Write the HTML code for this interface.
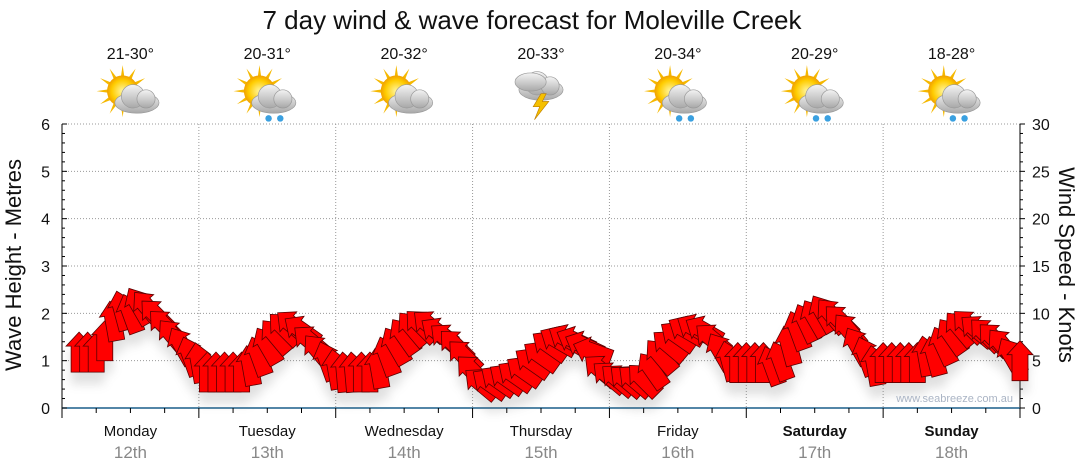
<!DOCTYPE html>
<html><head><meta charset="utf-8"><style>
body{margin:0;background:#fff;font-family:"Liberation Sans","DejaVu Sans",sans-serif}
svg{display:block}
</style></head><body>
<svg id="c" width="1080" height="475">
<defs>
<filter id="sh" x="-50%" y="-50%" width="200%" height="200%"><feGaussianBlur stdDeviation="5"/></filter>
<radialGradient id="sun" cx="50%" cy="50%" r="50%"><stop offset="0" stop-color="#fff6a0"/><stop offset="0.7" stop-color="#ffcc00"/><stop offset="1" stop-color="#f0a000"/></radialGradient>
<linearGradient id="cloud" x1="0" y1="0" x2="0" y2="1"><stop offset="0" stop-color="#f4f4f4"/><stop offset="1" stop-color="#a8a8a8"/></linearGradient>
</defs>
<text x="532" y="29" text-anchor="middle" font-size="26" fill="#111">7 day wind &amp; wave forecast for Moleville Creek</text>
<g id="grid"></g>
<g id="axes"></g>
<g id="shadows" filter="url(#sh)" opacity="0.2"></g>
<g id="arrows"></g>
<g id="icons"></g>
<text x="1013" y="402" text-anchor="end" font-size="11" fill="#aab4c4">www.seabreeze.com.au</text>
<text transform="translate(21,265) rotate(-90)" text-anchor="middle" font-size="22" fill="#111">Wave Height - Metres</text>
<text transform="translate(1059,265) rotate(90)" text-anchor="middle" font-size="22" fill="#111">Wind Speed - Knots</text>
</svg>
<script>
const days=["Monday","Tuesday","Wednesday","Thursday","Friday","Saturday","Sunday"];
const dates=["12th","13th","14th","15th","16th","17th","18th"];
const temps=["21-30°","20-31°","20-32°","20-33°","20-34°","20-29°","18-28°"];
const weather=["cloud","rain","cloud","storm","rain","rain","rain"];
const waveTicks=[0,1,2,3,4,5,6];
const windTicks=[0,5,10,15,20,25,30];
const windSpeed=[5.9,5.9,5.9,7.1,9.2,10.3,10,10.8,10.6,9.8,8.7,7.6,6.6,5.5,4.8,3.8,3.8,3.8,3.8,3.8,4.5,5.5,6.6,7.6,8.4,8.7,8.2,7.1,6,5,4.1,3.8,3.8,3.8,3.8,4.2,5.5,6.6,7.6,8.4,8.7,8.7,8,7.3,6.6,5.5,3.9,2.6,2.6,2.9,3.1,3.4,3.9,4.8,5.5,6.6,7.1,7.3,7.1,6.6,6,4,3.3,3,2.9,2.9,3,4,5.5,6.6,7.6,8.2,8.4,8.2,7.3,6,5,4.8,4.8,4.8,4.8,4.5,5,6.6,8.2,9,9.5,10,9.8,9.2,8.2,6.6,5.5,4.5,4.8,4.8,4.8,4.8,4.8,5.5,5.5,6.6,7.6,8.4,8.7,8.2,7.8,7.3,6.6,5.5,5];
const windDir=[0,0,0,0,-10,-15,-20,-30,-40,-45,-45,-40,-30,-20,-10,0,0,0,0,0,-10,-20,-30,-40,-45,-50,-55,-50,-40,-20,-10,-5,-5,0,0,-10,-20,-30,-35,-40,-45,-50,-55,-50,-45,-45,-45,-50,-55,-55,-55,-55,-55,-55,-55,-55,-60,-60,-65,-65,-70,-50,-50,-50,-50,-50,-45,-35,-40,-50,-55,-60,-60,-60,-50,-30,-15,0,0,0,0,-20,-20,-15,-20,-25,-30,-30,-40,-45,-40,-30,-20,-10,0,0,0,0,0,-10,-15,-25,-35,-40,-45,-50,-45,-45,-40,-30,0];
const hours=[];for(let i=0;i<windSpeed.length;i++)hours.push(3+1.5*i);

const NS="http://www.w3.org/2000/svg";
const L=62,R=1020,T=124,B=408;
const xS=h=>L+(R-L)*h/168;
const yWave=v=>B-(B-T)*v/6;
const yWind=v=>B-(B-T)*v/30;
function mk(tag,attrs,parent,txt){const e=document.createElementNS(NS,tag);for(const k in attrs)e.setAttribute(k,attrs[k]);if(txt!==undefined)e.textContent=txt;document.getElementById(parent).appendChild(e);return e;}

waveTicks.forEach(v=>{if(v>0){const g=mk('line',{x1:L,x2:R,y1:yWave(v),y2:yWave(v),stroke:'#999','stroke-dasharray':'1,2'},'grid');

}});
for(let d=1;d<7;d++){const g=mk('line',{x1:xS(d*24),x2:xS(d*24),y1:T,y2:B,stroke:'#999','stroke-dasharray':'1,2'},'grid');

}
mk('line',{x1:L,x2:L,y1:T,y2:B+8,stroke:'#000'},'axes');
mk('line',{x1:R,x2:R,y1:T,y2:B,stroke:'#000'},'axes');
mk('line',{x1:L,x2:R,y1:B,y2:B,stroke:'#1a5f8a','stroke-width':1.5},'axes');
for(let m=0;m<=30;m++){const y=B-(B-T)*m/30;mk('line',{x1:L,x2:L+(m%5==0?5:3),y1:y,y2:y,stroke:'#000'},'axes');mk('line',{x1:R,x2:R+(m%5==0?5:3),y1:y,y2:y,stroke:'#000'},'axes');}
waveTicks.forEach(v=>{const t=mk('text',{x:L-12,y:yWave(v)+6,'text-anchor':'end','font-size':16,fill:'#111'},'axes',v);

});
windTicks.forEach(v=>{const t=mk('text',{x:R+12,y:yWind(v)+6,'font-size':16,fill:'#111'},'axes',v);

});
for(let h=0;h<=168;h+=6){const x=xS(h);mk('line',{x1:x,x2:x,y1:B,y2:B+(h%24==0?10:5),stroke:'#000'},'axes');}
days.forEach((d,i)=>{const cx=xS(i*24+12);
const a=mk('text',{x:cx,y:436,'text-anchor':'middle','font-size':15,fill:'#111','font-weight':i>=5?'bold':'normal'},'axes',d);


const b=mk('text',{x:cx,y:458,'text-anchor':'middle','font-size':17,fill:'#888'},'axes',dates[i]);


const c=mk('text',{x:cx,y:59,'text-anchor':'middle','font-size':16,fill:'#111'},'axes',temps[i]);


const g=document.createElementNS(NS,'g');document.getElementById('icons').appendChild(g);


g.setAttribute('transform',`translate(${cx},95) scale(1.3) translate(${-cx},-95)`);
let s='';const ix=cx-6,iy=92;
if(weather[i]!=='storm'){for(let k=0;k<12;k++){const an=k*30*Math.PI/180;s+=`<polygon points="${ix+Math.cos(an-0.15)*10},${iy+Math.sin(an-0.15)*10} ${ix+Math.cos(an)*20},${iy+Math.sin(an)*20} ${ix+Math.cos(an+0.15)*10},${iy+Math.sin(an+0.15)*10}" fill="#f5b800"/>`;}
s+=`<circle cx="${ix}" cy="${iy}" r="12" fill="url(#sun)"/>`;}
const ox=weather[i]==='storm'?cx:cx+5,oy=weather[i]==='storm'?88:98;
s+=`<g fill="url(#cloud)" stroke="#999" stroke-width="0.5"><ellipse cx="${ox}" cy="${oy+3}" rx="17" ry="8"/><circle cx="${ox-3}" cy="${oy-2}" r="9"/><circle cx="${ox+7}" cy="${oy}" r="7"/></g>`;
if(weather[i]==='storm'){s+=`<g fill="url(#cloud)" stroke="#999" stroke-width="0.5"><ellipse cx="${ox-8}" cy="${oy-3}" rx="12" ry="7"/></g><polygon points="${ox},${oy+6} ${ox-6},${oy+16} ${ox-1},${oy+16} ${ox-5},${oy+26} ${ox+6},${oy+12} ${ox+1},${oy+12} ${ox+4},${oy+6}" fill="#f5c000" stroke="#c08000" stroke-width="0.5"/>`;}
if(weather[i]==='rain'){s+=`<circle cx="${ox-4}" cy="${oy+15}" r="2.5" fill="#3aa0e0"/><circle cx="${ox+5}" cy="${oy+15}" r="2.5" fill="#3aa0e0"/>`;}
g.innerHTML=s;
});
const arrowPts="0,-20 13,-6 8,-6 8,20 -8,20 -8,-6 -13,-6";
hours.forEach((h,i)=>{const x=xS(h),y=yWind(windSpeed[i]);
const sh=mk('polygon',{points:arrowPts,transform:`translate(${x},${y+12}) rotate(${windDir[i]})`,fill:'#666'},'shadows');


const p=mk('polygon',{points:arrowPts,transform:`translate(${x},${y}) rotate(${windDir[i]})`,fill:'#ff0000',stroke:'#5a0000','stroke-width':0.8},'arrows');


});
</script>
</body></html>
